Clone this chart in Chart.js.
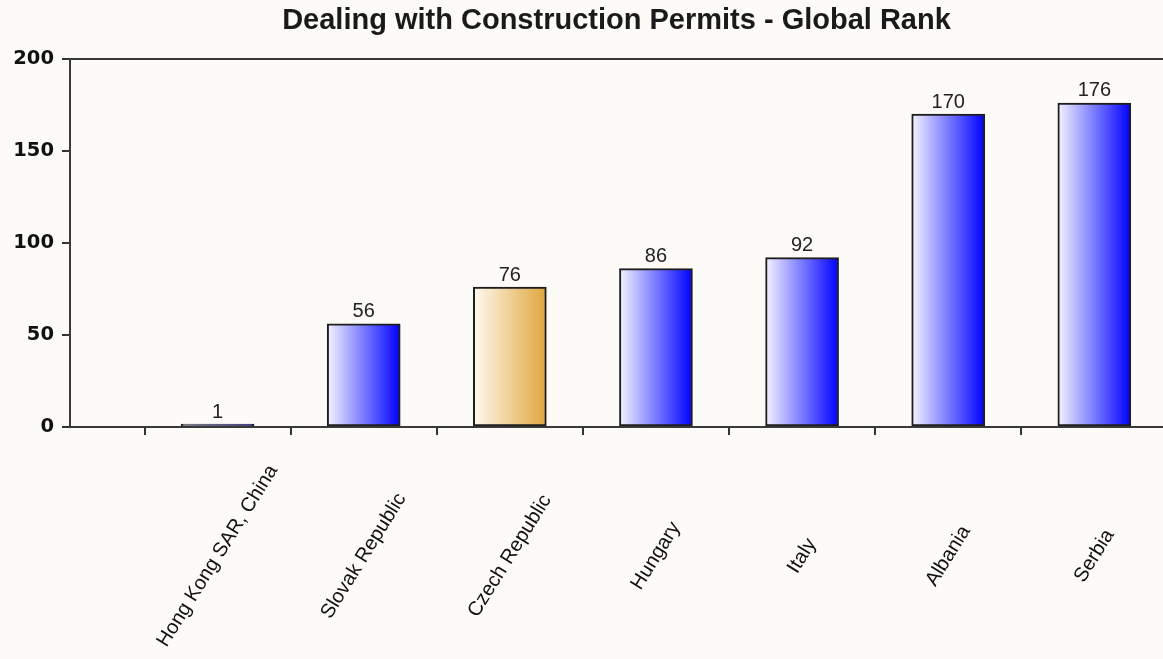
<!DOCTYPE html>
<html>
<head>
<meta charset="utf-8">
<script src="https://cdn.jsdelivr.net/npm/chart.js@4/dist/chart.umd.min.js"></script>
<style>
  html, body { margin: 0; padding: 0; background: #fcfbf8; overflow: hidden; }
  #wrap { width: 1163px; height: 659px; position: relative; }
</style>
</head>
<body>
<div id="wrap"><canvas id="c" width="1163" height="659"></canvas></div>
<script>
const chartTitle = 'Dealing with Construction Permits - Global Rank';
const categories = ['Hong Kong SAR, China', 'Slovak Republic', 'Czech Republic', 'Hungary', 'Italy', 'Albania', 'Serbia'];
const ranks = [1, 56, 76, 86, 92, 170, 176];
const highlighted = 'Czech Republic';
const yTicks = [0, 50, 100, 150, 200];

const BAR_W = 73;

function barGradient(ctx) {
  const chart = ctx.chart;
  const xs = chart.scales && chart.scales.x;
  const i = ctx.dataIndex;
  const isHi = categories[i] === highlighted;
  const fallback = isHi ? '#e6b050' : '#0000ff';
  if (!xs || i === undefined) return fallback;
  const cx = xs.getPixelForValue(i);
  if (!isFinite(cx)) return fallback;
  const g = chart.ctx.createLinearGradient(cx - BAR_W / 2, 0, cx + BAR_W / 2, 0);
  if (isHi) {
    g.addColorStop(0, '#fffaf0');
    g.addColorStop(1, '#e0a63c');
  } else {
    g.addColorStop(0, '#f4f4ff');
    g.addColorStop(1, '#0000ff');
  }
  return g;
}

const bgPlugin = {
  id: 'bg',
  beforeDraw(chart) {
    const c = chart.ctx;
    c.save();
    c.fillStyle = '#fcfbf8';
    c.fillRect(0, 0, chart.width, chart.height);
    c.restore();
  }
};

const valueLabels = {
  id: 'valueLabels',
  afterDatasetsDraw(chart) {
    const c = chart.ctx;
    const meta = chart.getDatasetMeta(0);
    c.save();
    c.font = '20px "Liberation Sans", Arial, sans-serif';
    c.fillStyle = '#222';
    c.textAlign = 'center';
    c.textBaseline = 'bottom';
    meta.data.forEach((bar, i) => {
      c.fillText(String(ranks[i]), bar.x, bar.y - 2);
    });
    c.restore();
  }
};

const catLabels = {
  id: 'catLabels',
  afterDraw(chart) {
    const c = chart.ctx;
    const xs = chart.scales.x;
    c.save();
    c.font = '20px "Liberation Sans", Arial, sans-serif';
    c.fillStyle = '#111';
    c.textAlign = 'center';
    c.textBaseline = 'middle';
    categories.forEach((name, i) => {
      const x = xs.getPixelForValue(i);
      c.save();
      c.translate(x, 556);
      c.rotate(-58 * Math.PI / 180);
      c.fillText(name, 0, 0);
      c.restore();
    });
    c.restore();
  }
};

new Chart(document.getElementById('c'), {
  type: 'bar',
  data: {
    datasets: [{
      data: ranks.map((v, i) => ({ x: i, y: v })),
      backgroundColor: barGradient,
      borderColor: '#1e1e1e',
      borderWidth: 2,
      borderSkipped: false,
      barThickness: BAR_W,
      minBarLength: 3
    }]
  },
  options: {
    responsive: false,
    animation: false,
    events: [],
    layout: { padding: { left: 0, right: 0, top: 0, bottom: 0 } },
    plugins: {
      legend: { display: false },
      tooltip: { enabled: false },
      title: {
        display: true,
        text: chartTitle,
        fullSize: false,
        color: '#1a1a1a',
        font: { family: '"Liberation Sans", Arial, sans-serif', size: 29, weight: 'bold', lineHeight: 1.2 },
        padding: { top: 4, bottom: 20 }
      }
    },
    scales: {
      x: {
        type: 'linear',
        position: 'bottom',
        offset: false,
        min: -1.01,
        max: 6.47,
        afterBuildTicks(s) {
          s.ticks = categories.map((_, i) => ({ value: i - 0.5 }));
        },
        afterFit(s) { s.height = 232; },
        ticks: { display: false },
        grid: { offset: false, drawOnChartArea: false, drawTicks: true, tickLength: 8, color: '#333', lineWidth: 2 },
        border: { display: true, color: '#3a3a3a', width: 2 }
      },
      xTop: {
        type: 'linear',
        position: 'top',
        offset: false,
        min: -1.01,
        max: 6.47,
        afterFit(s) { s.height = 0; },
        ticks: { display: false },
        grid: { offset: false, drawOnChartArea: false, drawTicks: false },
        border: { display: true, color: '#3a3a3a', width: 2 }
      },
      y: {
        min: 0,
        max: 200,
        afterBuildTicks(s) {
          s.ticks = yTicks.map(v => ({ value: v }));
        },
        afterFit(s) { s.width = 70; },
        ticks: {
          padding: 8,
          color: '#111',
          font: { family: '"DejaVu Sans", Verdana, sans-serif', size: 19.5, weight: 'bold' }
        },
        grid: { drawOnChartArea: false, drawTicks: true, tickLength: 8, color: '#333', lineWidth: 2 },
        border: { display: true, color: '#3a3a3a', width: 2 }
      }
    }
  },
  plugins: [bgPlugin, valueLabels, catLabels]
});
</script>
</body>
</html>
